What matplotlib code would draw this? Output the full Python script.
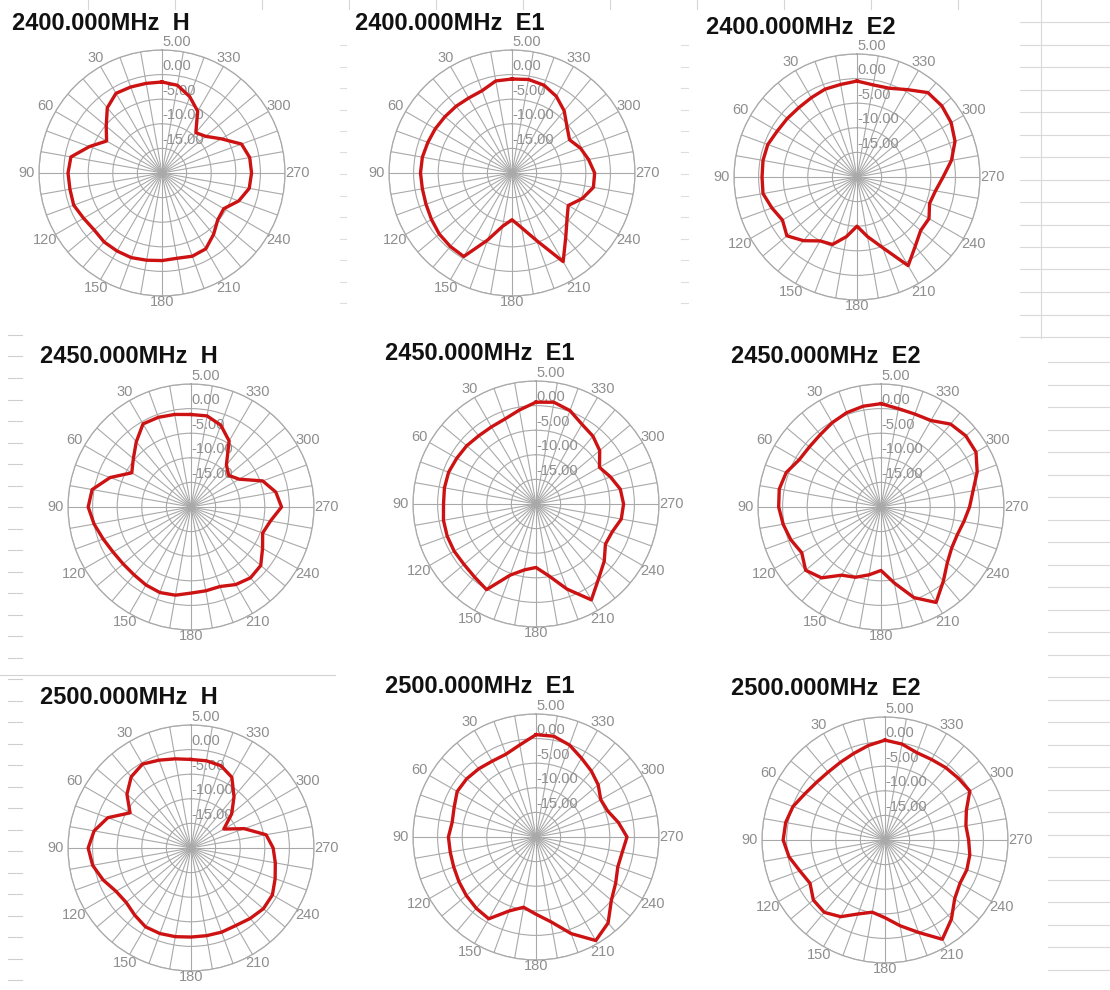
import numpy as np
import matplotlib.pyplot as plt
from matplotlib.lines import Line2D

# Measured gain (dB) every 10 degrees, 0..350, counter-clockwise from top
ANGLES = np.arange(0, 360, 10)

h_2400 = [-1.5, -1.5, -1.4, -1.3, -2.7, -5.2, -7.0, -4.3, -1.2, -0.9, -1.0, -0.9,
          -1.6, -2.0, -1.7, -1.7, -1.7, -2.0, -2.2, -2.4, -2.0, -2.2, -3.7, -5.2,
          -5.5, -3.4, -2.0, -1.8, -1.9, -2.8, -6.1, -8.4, -9.3, -5.5, -3.5, -1.9]
e1_2400 = [-0.9, -1.0, -2.2, -2.4, -2.3, -2.2, -2.0, -1.8, -1.5, -1.4, -1.5, -1.4,
           -1.1, -0.7, -0.5, -0.4, -5.5, -9.0, -10.5, -8.7, -5.4, 0.8, -3.0, -5.4,
           -6.8, -4.8, -3.2, -3.2, -4.2, -5.2, -6.5, -5.4, -3.5, -2.0, -1.0, -0.7]
e2_2400 = [-0.5, -0.9, -1.0, -1.4, -1.6, -1.5, -1.3, -0.7, -0.6, -0.7, -0.6, -1.6,
           -2.5, -1.4, -3.1, -5.0, -5.4, -7.7, -10.0, -7.7, -4.7, 0.8, -1.6, -3.1,
           -3.1, -4.3, -3.8, -2.5, -0.5, 1.2, 2.1, 2.5, 2.4, 0.5, -0.8, -1.0]

h_2450 = [-1.2, -0.9, -0.6, -0.5, -2.7, -4.7, -6.1, -2.5, 0.4, 0.9, 0.0, -1.0,
          -1.7, -2.0, -2.0, -1.7, -1.5, -1.8, -2.5, -2.7, -2.8, -1.8, -1.2, -1.5,
          -3.2, -4.5, -3.6, -1.6, -2.5, -4.5, -8.7, -10.0, -8.8, -4.5, -2.3, -1.2]
e1_2450 = [0.7, -0.6, -1.6, -1.9, -1.9, -1.6, -1.4, -1.1, -1.1, -1.2, -0.9, -0.8,
           -0.8, -0.9, -0.6, 0.1, -4.6, -6.4, -7.1, -5.2, -1.6, 2.5, -0.2, -1.9,
           -3.7, -3.5, -2.4, -2.2, -2.6, -3.9, -5.1, -3.1, -2.0, -1.3, 0.2, 1.0]
e2_2450 = [1.0, 0.8, 0.4, -0.2, -0.8, -1.0, -0.8, 0.5, 1.0, 0.8, 0.2, -0.5,
           -1.4, 0.0, -1.2, -4.0, -4.8, -6.0, -7.1, -4.3, -0.4, 2.4, -0.3, -2.4,
           -3.4, -3.5, -2.9, -2.0, -1.0, 0.8, 2.3, 2.5, 2.0, 0.3, 0.1, 0.3]

h_2500 = [-2.0, -1.6, -1.0, -0.3, -1.1, -3.0, -5.7, -2.0, 0.0, 0.9, 0.3, -1.0,
          -2.4, -2.8, -2.2, -1.5, -1.5, -1.7, -1.9, -1.9, -1.8, -1.8, -1.3, -0.8,
          -0.9, -1.8, -2.6, -3.3, -4.5, -8.5, -12.3, -9.2, -6.4, -3.4, -2.2, -2.0]
e1_2500 = [0.8, -1.0, -2.1, -2.2, -1.9, -1.6, -1.5, -2.3, -2.7, -2.2, -2.3, -2.2,
           -1.9, -1.5, -1.1, -0.8, -4.0, -5.5, -4.3, -2.5, 0.9, 4.3, 2.8, 0.0,
           -1.3, -2.3, -2.2, -1.5, -3.0, -4.5, -4.8, -3.5, -2.5, -1.5, -0.1, 0.8]
e2_2500 = [0.3, -0.5, -1.3, -1.8, -2.0, -1.8, -1.2, -0.1, 0.5, 0.7, -0.2, -1.6,
           -2.4, -1.0, -0.8, -2.0, -4.0, -5.1, -4.2, -2.3, 0.0, 3.3, 1.0, -1.5,
           -2.4, -2.3, -2.5, -3.0, -3.3, -2.4, -0.1, -0.5, -0.8, -1.1, -1.1, -0.2]

TITLES = ["2400.000MHz  H", "2400.000MHz  E1", "2400.000MHz  E2",
          "2450.000MHz  H", "2450.000MHz  E1", "2450.000MHz  E2",
          "2500.000MHz  H", "2500.000MHz  E1", "2500.000MHz  E2"]
SERIES = [h_2400, e1_2400, e2_2400, h_2450, e1_2450, e2_2450, h_2500, e1_2500, e2_2500]

LABEL_ANGLES = np.arange(30, 360, 30)
LABEL_TEXT = [str(a) for a in LABEL_ANGLES]
RING_VALUES = [5, 0, -5, -10, -15]
RING_LABELS = ["5.00", "0.00", "-5.00", "-10.00", "-15.00"]

# layout in pixels (screen-shot of a spreadsheet)
W, H = 1110, 990
RADIUS = 123
CENTERS = [(162, 173), (512, 173), (857, 177),
           (191, 507), (536, 504), (881, 507),
           (191, 848), (536, 837), (885, 840)]
TITLE_POS = [(12, 30), (355, 30), (706, 34),
             (40, 363), (385, 360), (731, 363),
             (40, 704), (385, 693), (731, 695)]

GRID = "#a9a9a9"
LABEL_COLOR = "#8e8e8e"
RED = "#cc1212"

plt.rcParams["font.family"] = ["Liberation Sans", "DejaVu Sans"]

fig = plt.figure(figsize=(W / 100, H / 100), dpi=100)
fig.patch.set_facecolor("white")


def sheet_line(x0, y0, x1, y1, color="#d9d9d9"):
    fig.add_artist(Line2D([x0 / W, x1 / W], [1 - y0 / H, 1 - y1 / H],
                          transform=fig.transFigure, color=color, lw=0.8))


def draw_sheet_background():
    """Faint spreadsheet cell borders seen around the pasted charts."""
    sheet_line(1041, 0, 1041, 338)
    for y in np.arange(22, 340, 22.5):
        sheet_line(1020, y, 1110, y)
    for y in np.arange(362, 990, 22.5):
        sheet_line(1048, y, 1110, y)
    for y in np.arange(335, 990, 21.5):
        sheet_line(8, y, 22, y, color="#cfcfcf")
    for y in np.arange(45, 320, 21.5):
        sheet_line(340, y, 346, y, color="#dedede")
        sheet_line(681, y, 688, y, color="#dedede")
    sheet_line(0, 675, 335, 675, color="#d2d2d2")
    for x in np.arange(88, 1040, 87):
        sheet_line(x, 0, x, 9, color="#d6d6d6")


def add_panel(center, title, title_pos, gains):
    cx, cy = center
    ax = fig.add_axes([(cx - RADIUS) / W, 1 - (cy + RADIUS) / H,
                       2 * RADIUS / W, 2 * RADIUS / H], projection="polar")
    ax.set_theta_zero_location("N")
    ax.set_theta_direction(1)
    ax.set_ylim(-20, 5)
    ax.set_facecolor("none")

    ax.set_xticks(np.deg2rad(ANGLES))
    ax.set_xticklabels([])
    ax.set_yticks(RING_VALUES)
    ax.set_yticklabels([])
    ax.tick_params(length=0)
    ax.grid(True, color=GRID, lw=0.8)
    ax.spines["polar"].set_color(GRID)
    ax.spines["polar"].set_linewidth(0.9)

    theta = np.deg2rad(np.append(ANGLES, ANGLES[0]))
    r = np.append(gains, gains[0])
    ax.plot(theta, r, color=RED, lw=2.4, solid_joinstyle="round", zorder=5)

    # angle labels just outside the outer ring
    for ang, lab in zip(LABEL_ANGLES, LABEL_TEXT):
        s = abs(np.sin(np.deg2rad(ang)))
        ax.text(np.deg2rad(ang), 5 + 1.3 + 1.3 * s, lab, ha="center", va="center",
                fontsize=10.5, color=LABEL_COLOR)

    # ring labels to the right of the 0 degree spoke
    for v, lab in zip(RING_VALUES, RING_LABELS):
        ax.annotate(lab, xy=(0, v), xytext=(0.5, 1.0), textcoords="offset points",
                    ha="left", va="bottom", fontsize=10.5, color=LABEL_COLOR, zorder=3)

    tx, ty = title_pos
    fig.text(tx / W, 1 - ty / H, title, fontsize=17, fontweight="bold",
             color="#111111", ha="left", va="baseline")


def main():
    draw_sheet_background()
    for center, title, pos, gains in zip(CENTERS, TITLES, TITLE_POS, SERIES):
        add_panel(center, title, pos, gains)
    fig.savefig("out.png", dpi=100, facecolor="white")


if __name__ == "__main__":
    main()
